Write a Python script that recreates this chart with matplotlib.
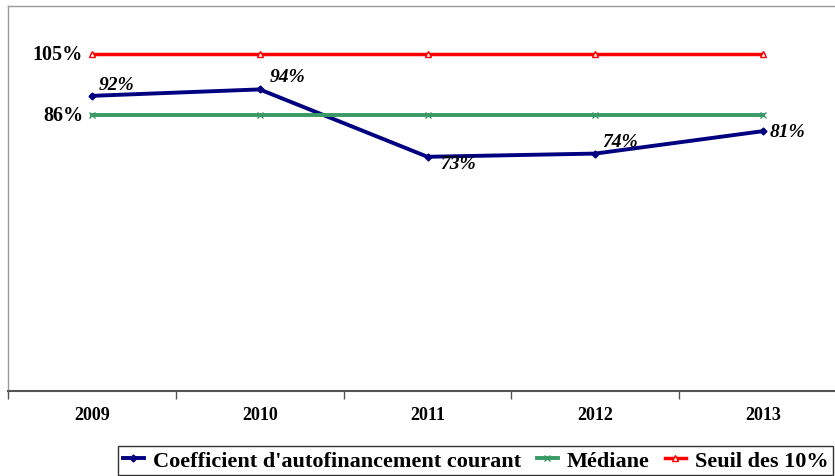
import matplotlib
matplotlib.use("Agg")
import matplotlib.pyplot as plt
import numpy as np

years = ["2009", "2010", "2011", "2012", "2013"]
caf = [92, 94, 73, 74, 81]
mediane = [86, 86, 86, 86, 86]
seuil = [105, 105, 105, 105, 105]
caf_labels = ["92%", "94%", "73%", "74%", "81%"]

W, H = 835, 477
fig = plt.figure(figsize=(W / 100, H / 100), dpi=100)
# axes: x 8..847 px, y 7..392 px
ax = fig.add_axes([8 / W, 1 - 392 / H, (847 - 8) / W, (392 - 7) / H])
x = np.arange(len(years))

serif = ["Liberation Serif", "DejaVu Serif"]

l1, = ax.plot(x, caf, color="#000080", lw=2.8, marker="D", ms=3.5,
              label="Coefficient d'autofinancement courant")
l2, = ax.plot(x, mediane, color="#3a9a66", lw=2.8, marker="x", ms=5, mew=1,
              label="Médiane")
l3, = ax.plot(x, seuil, color="#ff0000", lw=2.5, marker="^", ms=5,
              mfc="white", mew=1, label="Seuil des 10%")

ax.set_xlim(-0.5, 4.5)
ax.set_ylim(0, 120)
ax.set_yticks([])
ax.set_xticks(np.arange(-0.5, 5.0, 1.0))
ax.set_xticklabels([])
ax.tick_params(axis="x", length=6, width=1, color="#555555", direction="out")
for i, yr in enumerate(years):
    ax.text(i, -0.06, yr, transform=ax.get_xaxis_transform(), ha="center",
            va="center", fontsize=13, fontweight="bold", family=serif)

ax.spines["left"].set_color("#999999")
ax.spines["top"].set_color("#999999")
ax.spines["right"].set_color("#999999")
ax.spines["left"].set_linewidth(1)
ax.spines["top"].set_linewidth(1)
ax.spines["bottom"].set_color("#555555")
ax.spines["bottom"].set_linewidth(1.5)

# data labels
offsets = [(5, 8), (7, 9.5), (9, -5), (5, 9), (5, 0)]
for i, (v, lab) in enumerate(zip(caf, caf_labels)):
    dx, dy = offsets[i]
    ax.annotate(lab, (x[i], v), xytext=(dx, dy), textcoords="offset points",
                ha="left", va="center", fontsize=14, fontweight="bold",
                fontstyle="italic", family=serif)
ax.annotate("105%", (x[0], seuil[0]), xytext=(-6.5, 0), textcoords="offset points",
            ha="right", va="center", fontsize=14.5, fontweight="bold", family=serif)
ax.annotate("86%", (x[0], mediane[0]), xytext=(-6, 0), textcoords="offset points",
            ha="right", va="center", fontsize=14.5, fontweight="bold", family=serif)

leg = fig.legend(handles=[l1, l2, l3], loc="lower right",
                 bbox_to_anchor=(833 / W, 1 / H), ncol=3,
                 prop={"family": serif, "weight": "bold", "size": 16},
                 frameon=True, fancybox=False, edgecolor="black",
                 handlelength=0.95, handletextpad=0.4, columnspacing=0.7,
                 borderpad=0.2, borderaxespad=0)
leg.get_frame().set_linewidth(1)

fig.savefig("out.png", dpi=100)
